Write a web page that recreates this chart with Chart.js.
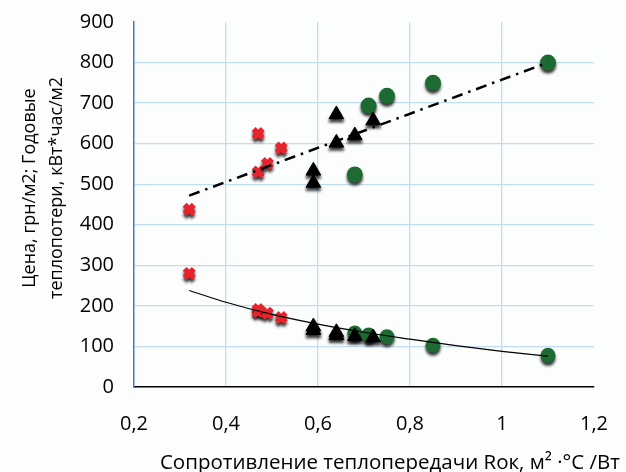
<!DOCTYPE html>
<html>
<head>
<meta charset="utf-8">
<script src="https://cdn.jsdelivr.net/npm/chart.js@4.4.1/dist/chart.umd.min.js"></script>
<style>
html,body{margin:0;padding:0;background:#fcfdfd;}
#wrap{width:626px;height:472px;position:relative;}
</style>
</head>
<body>
<div id="wrap"><canvas id="c" width="626" height="472"></canvas></div>
<script>
// ---- data ----
const xTickLabels = ['0,2', '0,4', '0,6', '0,8', '1', '1,2'];
const yTickLabels = ['0', '100', '200', '300', '400', '500', '600', '700', '800', '900'];
const xTitle = 'Сопротивление теплопередачи Rок, м² ·°С /Вт';
const yTitle = ['Цена, грн/м2; Годовые', 'теплопотери, кВт*час/м2'];

const redX        = [0.32, 0.47, 0.47, 0.49, 0.52];
const redUpperY   = [438, 625, 530, 551, 589];
const redLowerY   = [280, 191, 186, 182, 171];

const triX        = [0.59, 0.59, 0.64, 0.64, 0.68, 0.72];
const triUpperY   = [533, 503, 672, 602, 620, 657];
const triLowerY   = [149, 140, 135, 128, 125, 122];

const greenX      = [0.68, 0.71, 0.75, 0.85, 1.10];
const greenUpperY = [524, 694, 718, 750, 800];
const greenLowerY = [133, 128, 124, 103, 78];

const trendUpperX = [0.32, 1.10];
const trendUpperY = [472, 800];
const trendLowerX = [0.32, 0.40, 0.50, 0.60, 0.70, 0.80, 0.90, 1.00, 1.10];
const trendLowerY = [238, 209, 179, 155, 135, 118, 102, 88, 76];

function pts(xs, ys){ return xs.map((x,i)=>({x:x, y:ys[i]})); }

const RED = '#e8232b', GREEN = '#1d6a33', BLACK = '#000000';
const FONT = '"Open Sans", "DejaVu Sans", sans-serif';

const shadowPlugin = {
  id: 'markerShadow',
  beforeDatasetDraw(chart, args){
    const ds = chart.data.datasets[args.index];
    if (ds.shadow){
      const ctx = chart.ctx;
      ctx.save();
      ctx.shadowColor = 'rgba(0,0,0,0.8)';
      ctx.shadowBlur = 3;
      ctx.shadowOffsetX = 0;
      ctx.shadowOffsetY = 3;
    }
  },
  afterDatasetDraw(chart, args){
    const ds = chart.data.datasets[args.index];
    if (ds.shadow) chart.ctx.restore();
  }
};

const bgPlugin = {
  id: 'bg',
  beforeDraw(chart){
    const ctx = chart.ctx;
    ctx.save();
    ctx.fillStyle = '#fcfdfd';
    ctx.fillRect(0,0,chart.width,chart.height);
    ctx.restore();
  }
};

// axis titles placed like the reference (x title runs past the plot's right edge)
const titlePlugin = {
  id: 'axisTitles',
  afterDraw(chart){
    const ctx = chart.ctx;
    ctx.save();
    ctx.fillStyle = '#000';
    ctx.textBaseline = 'alphabetic';
    ctx.font = '20.5px ' + FONT;
    ctx.textAlign = 'right';
    ctx.fillText(xTitle, 620, 469);
    ctx.font = '18px ' + FONT;
    ctx.textAlign = 'center';
    ctx.textBaseline = 'middle';
    const cy = 188;
    [[30, yTitle[0]], [57, yTitle[1]]].forEach(([x, t]) => {
      ctx.save();
      ctx.translate(x, cy);
      ctx.rotate(-Math.PI / 2);
      ctx.fillText(t, 0, 0);
      ctx.restore();
    });
    ctx.restore();
  }
};

function markerSet(data, style, color, radius, border){
  return {
    type: 'scatter', data: data, shadow: true, order: 2,
    pointStyle: style, pointRadius: radius, pointHoverRadius: radius,
    backgroundColor: color, borderColor: color, borderWidth: border,
    showLine: false
  };
}

const datasets = [
  markerSet(pts(redX, redUpperY), 'crossRot', RED, 6.5, 5.5),
  markerSet(pts(redX, redLowerY), 'crossRot', RED, 6.5, 5.5),
  markerSet(pts(triX, triUpperY), 'triangle', BLACK, 8.5, 1),
  markerSet(pts(triX, triLowerY), 'triangle', BLACK, 8.5, 1),
  markerSet(pts(greenX, greenUpperY), 'circle', GREEN, 8, 0),
  markerSet(pts(greenX, greenLowerY), 'circle', GREEN, 7.5, 0),
  {
    type: 'line', data: pts(trendUpperX, trendUpperY), order: 0,
    borderColor: BLACK, borderWidth: 2.5, borderDash: [11, 6, 2.5, 6],
    pointRadius: 0, fill: false, tension: 0
  },
  {
    type: 'line', data: pts(trendLowerX, trendLowerY), order: 0,
    borderColor: BLACK, borderWidth: 1.2,
    pointRadius: 0, fill: false, cubicInterpolationMode: 'monotone'
  }
];

new Chart(document.getElementById('c'), {
  type: 'scatter',
  data: { datasets: datasets },
  plugins: [bgPlugin, shadowPlugin, titlePlugin],
  options: {
    responsive: false,
    animation: false,
    devicePixelRatio: 1,
    layout: { padding: { left: 0, right: 32, top: 22, bottom: 0 } },
    plugins: { legend: { display: false }, tooltip: { enabled: false } },
    scales: {
      x: {
        type: 'linear', min: 0.2, max: 1.2,
        ticks: {
          stepSize: 0.2, padding: 25, color: '#000',
          font: { family: FONT, size: 20 },
          callback: (v, i) => xTickLabels[i]
        },
        grid: {
          drawTicks: false,
          color: (c) => (c.index === 0 || c.index === xTickLabels.length - 1) ? 'rgba(0,0,0,0)' : '#c2dcf2',
          lineWidth: 1.3
        },
        border: { display: true, color: '#000', width: 1.5 },
        afterFit: (s) => { s.height = 472 - 387; s.paddingLeft = 0; s.paddingRight = 0; }
      },
      y: {
        type: 'linear', min: 0, max: 900,
        ticks: {
          stepSize: 100, padding: 20, color: '#000',
          font: { family: FONT, size: 20 },
          callback: (v, i) => yTickLabels[i]
        },
        grid: {
          drawTicks: false,
          color: (c) => (c.index === 0 || c.index === yTickLabels.length - 1) ? 'rgba(0,0,0,0)' : '#c2dcf2',
          lineWidth: 1.3
        },
        border: { display: true, color: '#4a78c0', width: 1.5 },
        afterFit: (s) => { s.width = 134; s.paddingTop = 0; s.paddingBottom = 0; }
      }
    }
  }
});
</script>
</body>
</html>
